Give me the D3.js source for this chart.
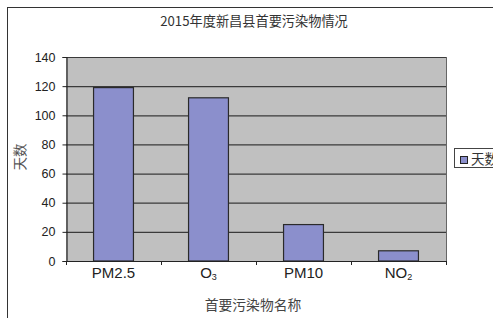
<!DOCTYPE html>
<html><head><meta charset="utf-8">
<script src="https://cdn.jsdelivr.net/npm/d3@7"></script>
<style>body{margin:0;background:#fff}svg{display:block}</style>
</head><body>
<script>
const categories = ["PM2.5", "O3", "PM10", "NO2"];
const values = [119, 112, 25, 7];
const yTicks = [0, 20, 40, 60, 80, 100, 120, 140];
const title = "2015年度新昌县首要污染物情况";
const yTitle = "天数";
const xTitle = "首要污染物名称";
const legendLabel = "天数";

const W = 493, H = 318;
const svg = d3.select("body").append("svg").attr("width", W).attr("height", H);
const font = "'Liberation Sans', Arial, sans-serif";
const cjk = "'Noto Sans CJK SC', sans-serif";

// outer frame
svg.append("rect").attr("x", 7.5).attr("y", 7.5).attr("width", W).attr("height", H)
  .attr("fill", "#fff").attr("stroke", "#333").attr("stroke-width", 1);

const m = {left: 66, right: 446, top: 57, bottom: 261};
const x = d3.scaleBand().domain(categories).range([m.left, m.right]).paddingInner(0.58).paddingOuter(0.29);
const y = d3.scaleLinear().domain([0, 140]).range([m.bottom, m.top]);

svg.append("rect").attr("x", m.left).attr("y", m.top).attr("width", m.right - m.left)
  .attr("height", m.bottom - m.top).attr("fill", "#c0c0c0");

svg.append("g").selectAll("line").data(yTicks.filter(d => d > 0)).join("line")
  .attr("x1", m.left).attr("x2", m.right).attr("y1", d => y(d) + 0.5).attr("y2", d => y(d) + 0.5)
  .attr("stroke", "#3a3a3a").attr("stroke-width", 1.2);
svg.append("line").attr("x1", m.right + 0.5).attr("x2", m.right + 0.5).attr("y1", m.top).attr("y2", m.bottom)
  .attr("stroke", "#666").attr("stroke-width", 1);

svg.append("g").selectAll("rect").data(categories).join("rect")
  .attr("x", d => x(d)).attr("width", x.bandwidth())
  .attr("y", (d, i) => y(values[i])).attr("height", (d, i) => y(0) - y(values[i]))
  .attr("fill", "#8b8fcc").attr("stroke", "#2a2a2a").attr("stroke-width", 1.2);

// y axis
const yAxis = d3.axisLeft(y).tickValues(yTicks).tickSize(4).tickPadding(7);
const gy = svg.append("g").attr("transform", `translate(${m.left + 0.5},0)`).call(yAxis);
gy.select(".domain").attr("stroke", "#222").attr("stroke-width", 1.2);
gy.selectAll(".tick line").attr("stroke", "#222");
gy.selectAll(".tick text").attr("font-family", font).attr("font-size", 12.5).attr("fill", "#222");

// x axis
const step = x.step();
const bounds = d3.range(categories.length + 1).map(i => m.left + i * step);
svg.append("line").attr("x1", m.left).attr("x2", m.right + 1).attr("y1", m.bottom + 0.5).attr("y2", m.bottom + 0.5)
  .attr("stroke", "#222").attr("stroke-width", 1.2);
svg.append("g").selectAll("line").data(bounds).join("line")
  .attr("x1", d => d + 0.5).attr("x2", d => d + 0.5).attr("y1", m.bottom).attr("y2", m.bottom + 4)
  .attr("stroke", "#222");
const xl = svg.append("g").selectAll("text").data(categories).join("text")
  .attr("x", d => x(d) + x.bandwidth() / 2).attr("y", m.bottom + 17)
  .attr("text-anchor", "middle").attr("font-family", font).attr("font-size", 15).attr("fill", "#222");
xl.each(function(d) {
  const t = d3.select(this);
  const mm = d.match(/^([A-Za-z]+)(\d)$/);
  if (mm && (d === "O3" || d === "NO2")) {
    t.append("tspan").text(mm[1]);
    t.append("tspan").attr("font-size", 9).attr("dy", 2).text(mm[2]);
  } else t.text(d);
});

// titles
svg.append("text").attr("x", 254).attr("y", 26).attr("text-anchor", "middle")
  .attr("font-family", cjk).attr("font-size", 13.2).attr("fill", "#333").text(title);
svg.append("text").attr("transform", "translate(25,157) rotate(-90)").attr("text-anchor", "middle")
  .attr("font-family", cjk).attr("font-size", 13.5).attr("fill", "#555").text(yTitle);
svg.append("text").attr("x", 253).attr("y", 310).attr("text-anchor", "middle")
  .attr("font-family", cjk).attr("font-size", 13.8).attr("fill", "#444").text(xTitle);

// legend
const lg = svg.append("g");
lg.append("rect").attr("x", 454.5).attr("y", 148.5).attr("width", 60).attr("height", 19)
  .attr("fill", "#fff").attr("stroke", "#444");
lg.append("rect").attr("x", 460.5).attr("y", 156.5).attr("width", 7).attr("height", 7)
  .attr("fill", "#8b8fcc").attr("stroke", "#222");
lg.append("text").attr("x", 471).attr("y", 164).attr("font-family", cjk).attr("font-size", 13.5)
  .attr("fill", "#333").text(legendLabel);
</script>
</body></html>
